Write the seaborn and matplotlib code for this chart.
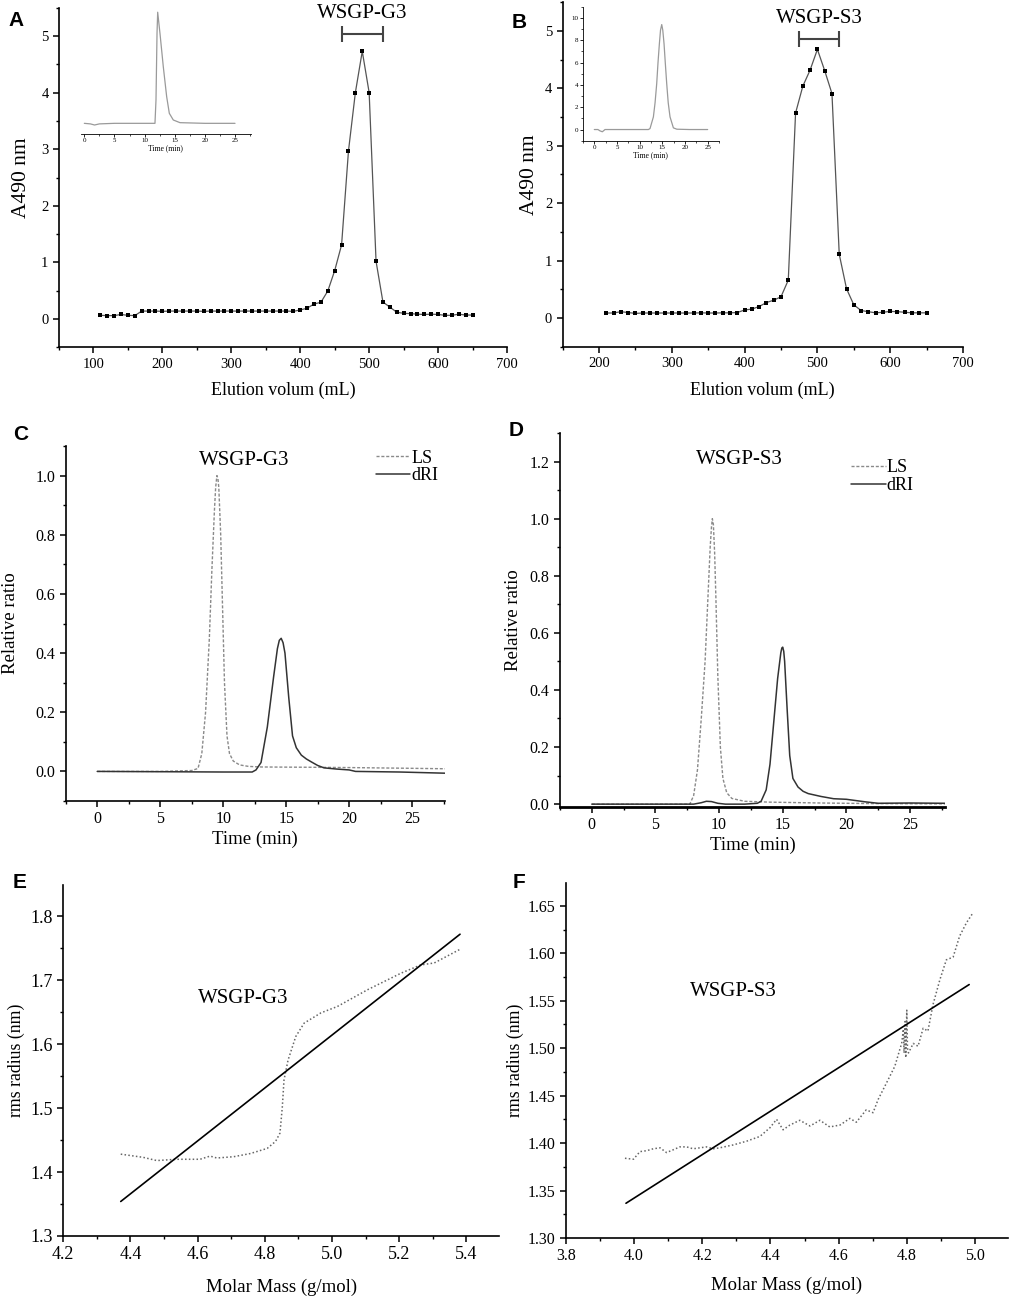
import numpy as np
import pandas as pd
import matplotlib
matplotlib.use("Agg")
import matplotlib.pyplot as plt
import seaborn as sns
from matplotlib.ticker import MultipleLocator, FormatStrFormatter

# ---------------- data ----------------
# Panel A: elution profile WSGP-G3
volA = list(range(110, 660, 10))
absA = [0.065, 0.06, 0.06, 0.08, 0.065, 0.06,
        0.14, 0.14, 0.14, 0.135, 0.14, 0.14, 0.14, 0.14, 0.14, 0.135, 0.14, 0.14,
        0.14, 0.14, 0.14, 0.14, 0.14, 0.14, 0.14, 0.14, 0.14, 0.14, 0.135,
        0.16, 0.19, 0.265, 0.295, 0.495, 0.855, 1.31, 2.97, 4.0, 4.73, 4.0, 1.02,
        0.30, 0.21, 0.12, 0.10, 0.095, 0.085, 0.08, 0.085, 0.08, 0.065, 0.065,
        0.085, 0.07, 0.07]
bracketA = [460, 520]
bracketA_y = 5.03

# Panel A inset (HPGPC, normalized)
insA_t = [0.0, 1.0, 1.7, 2.5, 5.0, 10.0, 11.72, 11.89, 12.06, 12.17, 12.55, 13.1,
          13.66, 14.1, 14.76, 15.87, 20.0, 25.0]
insA_v = [0.0, -0.005, -0.015, -0.005, 0.0, 0.0, 0.0, 0.21, 0.81, 1.0, 0.81, 0.51,
          0.24, 0.09, 0.03, 0.006, 0.0, 0.0]

# Panel B: elution profile WSGP-S3
volB = list(range(210, 660, 10))
absB = [0.087, 0.087, 0.11, 0.095, 0.08,
        0.087, 0.087, 0.087, 0.087, 0.087, 0.087, 0.087, 0.087, 0.09, 0.087, 0.087,
        0.09, 0.09, 0.095, 0.14, 0.155, 0.2, 0.27, 0.31, 0.37, 0.66, 3.57, 4.04,
        4.32, 4.68, 4.31, 3.91, 1.11, 0.51, 0.23, 0.13, 0.11, 0.09, 0.10, 0.115,
        0.11, 0.10, 0.09, 0.09, 0.09]
bracketB = [475, 530]
bracketB_y = 4.86

# Panel B inset
insB_t = [0.0, 0.8, 1.26, 1.77, 2.36, 5.0, 10.0, 11.93, 12.29, 13.03, 13.4, 13.76,
          14.05, 14.35, 14.6, 14.87, 15.1, 15.38, 15.65, 15.97, 16.3, 16.7, 17.44,
          18.2, 21.0, 25.0]
insB_v = [0.0, 0.0, -0.12, -0.2, 0.0, 0.0, 0.0, 0.0, 0.09, 1.13, 2.4, 4.1,
          6.0, 7.68, 8.9, 9.4, 8.9, 7.68, 6.0, 4.1, 2.4, 1.13, 0.15,
          0.03, 0.0, 0.0]

# Panel C: WSGP-G3 LS / dRI
C_ls_t = [0.0, 5.0, 7.5, 8.0, 8.3, 8.6, 8.9, 9.1, 9.3, 9.4, 9.5, 9.58, 9.65, 9.8,
          9.95, 10.1, 10.3, 10.5, 10.8, 11.3, 12.0, 13.0, 17.0, 20.0, 24.0, 27.6]
C_ls_v = [0.0, 0.0, 0.003, 0.01, 0.06, 0.2, 0.45, 0.68, 0.88, 0.96, 1.0, 0.99, 0.96,
          0.8, 0.55, 0.3, 0.12, 0.06, 0.035, 0.022, 0.017, 0.015, 0.014, 0.013,
          0.011, 0.009]
C_ri_t = [0.0, 5.0, 10.0, 12.3, 12.6, 13.0, 13.5, 14.0, 14.3, 14.45, 14.6, 14.75,
          14.9, 15.2, 15.5, 15.8, 16.2, 16.6, 17.0, 17.5, 18.0, 19.0, 20.0, 20.5,
          24.0, 27.6]
C_ri_v = [0.0, -0.001, -0.002, -0.002, 0.005, 0.03, 0.15, 0.32, 0.415, 0.443, 0.45,
          0.435, 0.40, 0.25, 0.12, 0.08, 0.055, 0.042, 0.032, 0.02, 0.012, 0.008,
          0.005, 0.0, -0.002, -0.006]

# Panel D: WSGP-S3 LS / dRI
D_ls_t = [0.0, 5.0, 7.7, 8.0, 8.3, 8.6, 8.9, 9.1, 9.3, 9.4, 9.47, 9.55, 9.65, 9.75,
          9.9, 10.1, 10.3, 10.6, 11.0, 12.0, 14.0, 18.0, 22.0, 27.75]
D_ls_v = [0.0, 0.0, 0.0, 0.03, 0.12, 0.3, 0.5, 0.7, 0.9, 0.97, 1.0, 0.98, 0.88, 0.72,
          0.45, 0.2, 0.09, 0.04, 0.02, 0.01, 0.007, 0.004, 0.002, 0.001]
D_ri_t = [0.0, 5.0, 8.0, 8.6, 9.0, 9.4, 9.9, 10.5, 12.0, 13.0, 13.3, 13.7, 14.0, 14.3,
          14.6, 14.85, 14.93, 15.0, 15.08, 15.15, 15.35, 15.55, 15.8, 16.2, 16.6,
          17.0, 18.0, 19.0, 20.0, 20.5, 21.5, 22.5, 25.0, 27.75]
D_ri_v = [0.0, 0.0, 0.0, 0.005, 0.01, 0.009, 0.003, 0.0, 0.0, 0.003, 0.01, 0.05, 0.14,
          0.29, 0.44, 0.53, 0.547, 0.55, 0.535, 0.50, 0.33, 0.17, 0.09, 0.06, 0.045,
          0.037, 0.027, 0.019, 0.017, 0.014, 0.008, 0.003, 0.004, 0.003]

# Panel E: conformation plot WSGP-G3
E_fit_x = [4.371, 5.381]
E_fit_y = [1.354, 1.772]
E_dot_x = [4.371, 4.438, 4.478, 4.538, 4.607, 4.637, 4.657, 4.707, 4.757, 4.807,
           4.832, 4.845, 4.852, 4.857, 4.869, 4.892, 4.917, 4.967, 5.016, 5.105,
           5.205, 5.264, 5.304, 5.383]
E_dot_y = [1.428, 1.423, 1.418, 1.420, 1.420, 1.425, 1.422, 1.424, 1.429, 1.437,
           1.448, 1.461, 1.502, 1.544, 1.575, 1.612, 1.633, 1.649, 1.659, 1.685,
           1.711, 1.724, 1.727, 1.749]

# Panel F: conformation plot WSGP-S3
F_fit_x = [3.976, 4.983]
F_fit_y = [1.3366, 1.567]
F_dot_x = [3.973, 3.998, 4.017, 4.037, 4.056, 4.076, 4.095, 4.115, 4.134, 4.154,
           4.173, 4.193, 4.212, 4.232, 4.251, 4.290, 4.330, 4.369, 4.398, 4.418,
           4.437, 4.457, 4.486, 4.516, 4.545, 4.574, 4.604, 4.633, 4.652, 4.681,
           4.701, 4.716, 4.740, 4.765, 4.779, 4.785, 4.790, 4.792, 4.795, 4.797,
           4.800, 4.802, 4.805, 4.819, 4.833, 4.848, 4.862, 4.877, 4.897, 4.916,
           4.936, 4.955, 4.975, 4.995]
F_dot_y = [1.384, 1.383, 1.391, 1.392, 1.394, 1.395, 1.390, 1.393, 1.396, 1.396,
           1.394, 1.395, 1.396, 1.394, 1.395, 1.398, 1.402, 1.407, 1.416, 1.425,
           1.414, 1.419, 1.424, 1.418, 1.424, 1.417, 1.419, 1.426, 1.422, 1.435,
           1.432, 1.446, 1.463, 1.481, 1.498, 1.505, 1.520, 1.495, 1.528, 1.490,
           1.540, 1.500, 1.495, 1.505, 1.502, 1.521, 1.518, 1.546, 1.572, 1.593,
           1.596, 1.618, 1.632, 1.643]

# ---------------- style ----------------
sns.set_theme(style="ticks")
plt.rcParams["font.family"] = ["Liberation Serif", "DejaVu Serif"]
plt.rcParams["axes.linewidth"] = 1.2
plt.rcParams["xtick.major.width"] = 1.1
plt.rcParams["ytick.major.width"] = 1.1
plt.rcParams["xtick.minor.width"] = 1.0
plt.rcParams["ytick.minor.width"] = 1.0
plt.rcParams["xtick.direction"] = "out"
plt.rcParams["ytick.direction"] = "out"
plt.rcParams["axes.edgecolor"] = "black"
plt.rcParams["xtick.color"] = "black"
plt.rcParams["ytick.color"] = "black"
plt.rcParams["text.color"] = "black"
plt.rcParams["axes.labelcolor"] = "black"

W, H = 1010, 1298
fig = plt.figure(figsize=(W / 100, H / 100), dpi=100)
fig.patch.set_facecolor("white")


def add_ax(l, t, r, b):
    return fig.add_axes([l / W, 1 - b / H, (r - l) / W, (b - t) / H])


def style(ax, fs, major=4.5, minor=2.5):
    sns.despine(ax=ax)
    ax.tick_params(which="major", length=major, labelsize=fs, pad=3)
    ax.tick_params(which="minor", length=minor)
    ax.set_facecolor("white")


def panel_letter(x, y, s):
    fig.text(x / W, 1 - y / H, s, fontsize=15, fontweight="bold",
             family=["Liberation Sans", "DejaVu Sans"], ha="left", va="center")


# ---------- A ----------
axA = add_ax(59, 7.7, 507, 347.3)
dfA = pd.DataFrame({"vol": volA, "abs": absA})
sns.lineplot(data=dfA, x="vol", y="abs", ax=axA, color="#555555", lw=0.9,
             marker="s", markersize=2.3, markeredgewidth=0,
             markerfacecolor="black", estimator=None)
axA.set_xlim(50, 700)
axA.set_ylim(-0.5, 5.5)
axA.xaxis.set_major_locator(MultipleLocator(100))
axA.xaxis.set_minor_locator(MultipleLocator(50))
axA.yaxis.set_major_locator(MultipleLocator(1))
axA.yaxis.set_minor_locator(MultipleLocator(0.5))
style(axA, 10.5)
axA.set_xlabel("Elution volum (mL)", fontsize=13, labelpad=8)
axA.set_ylabel("A490 nm", fontsize=15.5)
axA.yaxis.set_label_coords(-0.062, 0.5)
axA.errorbar([np.mean(bracketA)], [bracketA_y], xerr=[(bracketA[1] - bracketA[0]) / 2],
             color="#444444", lw=1.5, capsize=6, capthick=1.5, fmt="none")
axA.text(np.mean(bracketA), bracketA_y + 0.2, "WSGP-G3", fontsize=15,
         ha="center", va="bottom")

# inset A
iA = add_ax(80.7, 10, 250.7, 134)
sns.lineplot(x=insA_t, y=insA_v, ax=iA, color="#9a9a9a", lw=0.9, estimator=None)
iA.set_xlim(-0.6, 27.6)
iA.set_ylim(-0.096, 1.02)
iA.xaxis.set_major_locator(MultipleLocator(5))
iA.xaxis.set_minor_locator(MultipleLocator(2.5))
sns.despine(ax=iA, left=True)
iA.set_yticks([])
iA.spines["bottom"].set_linewidth(0.6)
iA.tick_params(which="major", length=2, width=0.6, labelsize=5, pad=1)
iA.tick_params(which="minor", length=1.2, width=0.5)
iA.set_xlabel("Time (min)", fontsize=5.5, labelpad=1)
iA.patch.set_alpha(0)

# ---------- B ----------
axB = add_ax(562.6, 2.3, 963, 346.7)
dfB = pd.DataFrame({"vol": volB, "abs": absB})
sns.lineplot(data=dfB, x="vol", y="abs", ax=axB, color="#555555", lw=0.9,
             marker="s", markersize=2.3, markeredgewidth=0,
             markerfacecolor="black", estimator=None)
axB.set_xlim(150, 700)
axB.set_ylim(-0.5, 5.5)
axB.xaxis.set_major_locator(MultipleLocator(100))
axB.xaxis.set_minor_locator(MultipleLocator(50))
axB.yaxis.set_major_locator(MultipleLocator(1))
axB.yaxis.set_minor_locator(MultipleLocator(0.5))
style(axB, 10.5)
axB.set_xlabel("Elution volum (mL)", fontsize=13, labelpad=8)
axB.set_ylabel("A490 nm", fontsize=15.5)
axB.yaxis.set_label_coords(-0.058, 0.5)
axB.errorbar([np.mean(bracketB)], [bracketB_y], xerr=[(bracketB[1] - bracketB[0]) / 2],
             color="#444444", lw=1.5, capsize=6, capthick=1.5, fmt="none")
axB.text(np.mean(bracketB), bracketB_y + 0.2, "WSGP-S3", fontsize=15,
         ha="center", va="bottom")

# inset B
iB = add_ax(582.7, 6.7, 719, 140.7)
sns.lineplot(x=insB_t, y=insB_v, ax=iB, color="#9a9a9a", lw=0.9, estimator=None)
iB.set_xlim(-2.56, 27.5)
iB.set_ylim(-1.0, 11.0)
iB.xaxis.set_major_locator(MultipleLocator(5))
iB.xaxis.set_minor_locator(MultipleLocator(2.5))
iB.yaxis.set_major_locator(MultipleLocator(2))
iB.yaxis.set_minor_locator(MultipleLocator(1))
sns.despine(ax=iB)
for s in ("left", "bottom"):
    iB.spines[s].set_linewidth(0.6)
iB.tick_params(which="major", length=2, width=0.6, labelsize=5, pad=1)
iB.tick_params(which="minor", length=1.2, width=0.5)
iB.set_xlabel("Time (min)", fontsize=5.5, labelpad=1)
iB.patch.set_alpha(0)

# ---------- C ----------
axC = add_ax(65.7, 446, 445, 801)
sns.lineplot(x=C_ls_t, y=C_ls_v, ax=axC, color="#8a8a8a", lw=1.0,
             linestyle=(0, (2.2, 1.3)), label="LS", estimator=None)
sns.lineplot(x=C_ri_t, y=C_ri_v, ax=axC, color="#333333", lw=1.1,
             label="dRI", estimator=None)
axC.set_xlim(-2.5, 27.6)
axC.set_ylim(-0.1, 1.1)
axC.xaxis.set_major_locator(MultipleLocator(5))
axC.xaxis.set_minor_locator(MultipleLocator(2.5))
axC.yaxis.set_major_locator(MultipleLocator(0.2))
axC.yaxis.set_minor_locator(MultipleLocator(0.1))
axC.yaxis.set_major_formatter(FormatStrFormatter("%.1f"))
style(axC, 11.5)
axC.set_xlabel("Time (min)", fontsize=13.5, labelpad=2)
axC.set_ylabel("Relative ratio", fontsize=13.5)
axC.yaxis.set_label_coords(-0.123, 0.5)
axC.text(0.47, 0.96, "WSGP-G3", transform=axC.transAxes, fontsize=15,
         ha="center", va="center")
axC.legend(loc="upper left", bbox_to_anchor=(0.818, 0.99), frameon=False,
           fontsize=13, handlelength=1.9, handletextpad=0.05, labelspacing=0.05,
           borderpad=0, borderaxespad=0)

# ---------- D ----------
axD = add_ax(560, 433, 945, 807)
sns.lineplot(x=D_ls_t, y=D_ls_v, ax=axD, color="#8a8a8a", lw=1.0,
             linestyle=(0, (2.2, 1.3)), label="LS", estimator=None)
sns.lineplot(x=D_ri_t, y=D_ri_v, ax=axD, color="#333333", lw=1.1,
             label="dRI", estimator=None)
axD.set_xlim(-2.5, 27.75)
axD.set_ylim(-0.01, 1.3)
axD.xaxis.set_major_locator(MultipleLocator(5))
axD.xaxis.set_minor_locator(MultipleLocator(2.5))
axD.yaxis.set_major_locator(MultipleLocator(0.2))
axD.yaxis.set_minor_locator(MultipleLocator(0.1))
axD.yaxis.set_major_formatter(FormatStrFormatter("%.1f"))
style(axD, 11.5)
axD.spines["bottom"].set_linewidth(2.0)
axD.set_xlabel("Time (min)", fontsize=13.5, labelpad=2)
axD.set_ylabel("Relative ratio", fontsize=13.5)
axD.yaxis.set_label_coords(-0.099, 0.5)
axD.text(0.465, 0.93, "WSGP-S3", transform=axD.transAxes, fontsize=15,
         ha="center", va="center")
axD.legend(loc="upper left", bbox_to_anchor=(0.757, 0.93), frameon=False,
           fontsize=13, handlelength=1.9, handletextpad=0.05, labelspacing=0.05,
           borderpad=0, borderaxespad=0)

# ---------- E ----------
axE = add_ax(63.3, 885, 499, 1236)
sns.lineplot(x=E_dot_x, y=E_dot_y, ax=axE, color="#666666", lw=1.1,
             linestyle=(0, (1, 1.5)), estimator=None, sort=False)
sns.lineplot(x=E_fit_x, y=E_fit_y, ax=axE, color="black", lw=1.2, estimator=None)
axE.set_xlim(4.2, 5.497)
axE.set_ylim(1.3, 1.849)
axE.xaxis.set_major_locator(MultipleLocator(0.2))
axE.xaxis.set_minor_locator(MultipleLocator(0.1))
axE.yaxis.set_major_locator(MultipleLocator(0.1))
axE.yaxis.set_minor_locator(MultipleLocator(0.05))
axE.xaxis.set_major_formatter(FormatStrFormatter("%.1f"))
axE.yaxis.set_major_formatter(FormatStrFormatter("%.1f"))
style(axE, 13)
axE.set_xlabel("Molar Mass (g/mol)", fontsize=13.5, labelpad=11)
axE.set_ylabel("rms radius (nm)", fontsize=12.8)
axE.yaxis.set_label_coords(-0.088, 0.5)
axE.text(4.735, 1.672, "WSGP-G3", fontsize=15, ha="center", va="center")

# ---------- F ----------
axF = add_ax(566, 883, 1008, 1238)
sns.lineplot(x=F_dot_x, y=F_dot_y, ax=axF, color="#666666", lw=1.1,
             linestyle=(0, (1, 1.5)), estimator=None, sort=False)
sns.lineplot(x=F_fit_x, y=F_fit_y, ax=axF, color="black", lw=1.2, estimator=None)
axF.set_xlim(3.8, 5.097)
axF.set_ylim(1.30, 1.674)
axF.xaxis.set_major_locator(MultipleLocator(0.2))
axF.xaxis.set_minor_locator(MultipleLocator(0.1))
axF.yaxis.set_major_locator(MultipleLocator(0.05))
axF.yaxis.set_minor_locator(MultipleLocator(0.025))
axF.xaxis.set_major_formatter(FormatStrFormatter("%.1f"))
axF.yaxis.set_major_formatter(FormatStrFormatter("%.2f"))
style(axF, 11.5)
axF.set_xlabel("Molar Mass (g/mol)", fontsize=13.5, labelpad=9)
axF.set_ylabel("rms radius (nm)", fontsize=12.8)
axF.yaxis.set_label_coords(-0.095, 0.5)
axF.text(4.291, 1.56, "WSGP-S3", fontsize=15, ha="center", va="center")

# panel letters
panel_letter(8, 20, "A")
panel_letter(512, 22, "B")
panel_letter(13, 435, "C")
panel_letter(509, 430, "D")
panel_letter(13, 882, "E")
panel_letter(513, 882, "F")

fig.savefig("out.png", dpi=100, facecolor="white")
